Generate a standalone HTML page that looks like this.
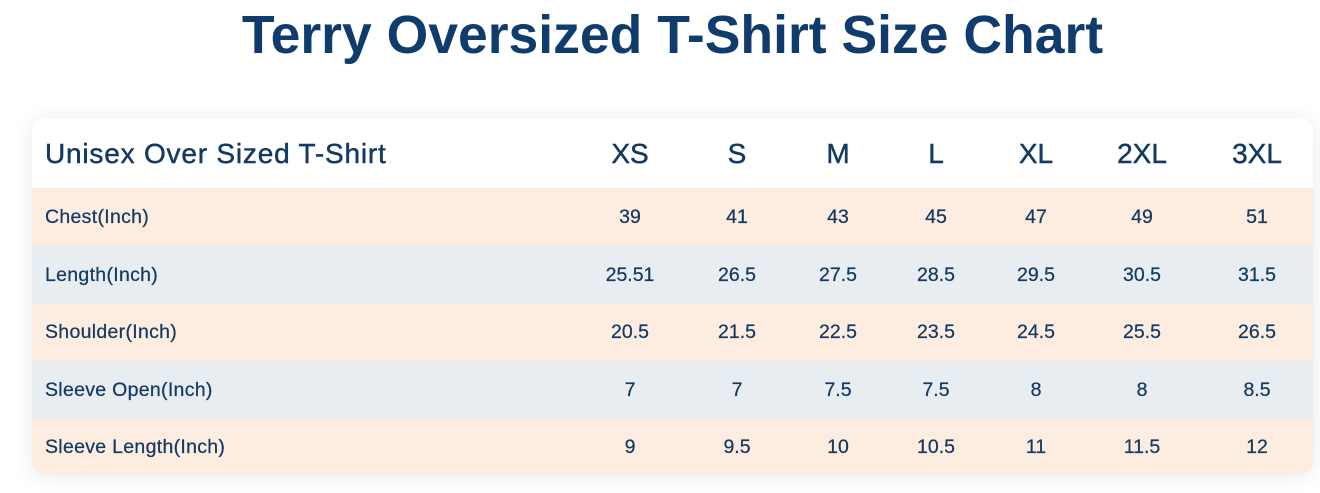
<!DOCTYPE html>
<html>
<head>
<meta charset="utf-8">
<style>
  html,body{margin:0;padding:0;}
  body{width:1320px;height:493px;background:#ffffff;position:relative;overflow:hidden;font-family:"Liberation Sans",sans-serif;color:#143a62;}
  .title{position:absolute;left:0;width:1345px;top:6px;text-align:center;font-size:53.5px;line-height:60px;font-weight:bold;color:#0f3c6c;white-space:nowrap;}
  .card{position:absolute;left:32px;top:118px;width:1281px;height:356px;border-radius:12px;overflow:hidden;background:#fff;box-shadow:0 2px 22px rgba(0,0,0,0.09);}
  .row{position:absolute;left:0;width:1281px;}
  .peach{background:#fdede1;}
  .grey{background:#e8edf1;}
  .t{position:absolute;white-space:nowrap;}
  .h{font-size:28px;line-height:30px;top:20.6px;-webkit-text-stroke:0.45px #143a62;}
  .lab{letter-spacing:0.8px;}
  .b{font-size:19.5px;line-height:20px;-webkit-text-stroke:0.25px #143a62;}
  .bl{letter-spacing:0.3px;}
  .c{width:120px;margin-left:-60px;text-align:center;}
</style>
</head>
<body>
<div class="title">Terry Oversized T-Shirt Size Chart</div>
<div class="card">
  <div class="row" style="top:0;height:70px;">
    <div class="t h lab" style="left:13px;">Unisex Over Sized T-Shirt</div>
    <div class="t h c" style="left:598px;">XS</div>
    <div class="t h c" style="left:705px;">S</div>
    <div class="t h c" style="left:806px;">M</div>
    <div class="t h c" style="left:904px;">L</div>
    <div class="t h c" style="left:1004px;">XL</div>
    <div class="t h c" style="left:1110px;">2XL</div>
    <div class="t h c" style="left:1225px;">3XL</div>
  </div>
  <div class="row peach" style="top:70px;height:58px;">
    <div class="t b bl" style="left:13px;top:19px;">Chest(Inch)</div>
    <div class="t b c" style="left:598px;top:19px;">39</div>
    <div class="t b c" style="left:705px;top:19px;">41</div>
    <div class="t b c" style="left:806px;top:19px;">43</div>
    <div class="t b c" style="left:904px;top:19px;">45</div>
    <div class="t b c" style="left:1004px;top:19px;">47</div>
    <div class="t b c" style="left:1110px;top:19px;">49</div>
    <div class="t b c" style="left:1225px;top:19px;">51</div>
  </div>
  <div class="row grey" style="top:128px;height:57px;">
    <div class="t b bl" style="left:13px;top:18.5px;">Length(Inch)</div>
    <div class="t b c" style="left:598px;top:18.5px;">25.51</div>
    <div class="t b c" style="left:705px;top:18.5px;">26.5</div>
    <div class="t b c" style="left:806px;top:18.5px;">27.5</div>
    <div class="t b c" style="left:904px;top:18.5px;">28.5</div>
    <div class="t b c" style="left:1004px;top:18.5px;">29.5</div>
    <div class="t b c" style="left:1110px;top:18.5px;">30.5</div>
    <div class="t b c" style="left:1225px;top:18.5px;">31.5</div>
  </div>
  <div class="row peach" style="top:185px;height:58px;">
    <div class="t b bl" style="left:13px;top:19px;">Shoulder(Inch)</div>
    <div class="t b c" style="left:598px;top:19px;">20.5</div>
    <div class="t b c" style="left:705px;top:19px;">21.5</div>
    <div class="t b c" style="left:806px;top:19px;">22.5</div>
    <div class="t b c" style="left:904px;top:19px;">23.5</div>
    <div class="t b c" style="left:1004px;top:19px;">24.5</div>
    <div class="t b c" style="left:1110px;top:19px;">25.5</div>
    <div class="t b c" style="left:1225px;top:19px;">26.5</div>
  </div>
  <div class="row grey" style="top:243px;height:57px;">
    <div class="t b bl" style="left:13px;top:18.5px;">Sleeve Open(Inch)</div>
    <div class="t b c" style="left:598px;top:18.5px;">7</div>
    <div class="t b c" style="left:705px;top:18.5px;">7</div>
    <div class="t b c" style="left:806px;top:18.5px;">7.5</div>
    <div class="t b c" style="left:904px;top:18.5px;">7.5</div>
    <div class="t b c" style="left:1004px;top:18.5px;">8</div>
    <div class="t b c" style="left:1110px;top:18.5px;">8</div>
    <div class="t b c" style="left:1225px;top:18.5px;">8.5</div>
  </div>
  <div class="row peach" style="top:300px;height:56px;">
    <div class="t b bl" style="left:13px;top:19px;">Sleeve Length(Inch)</div>
    <div class="t b c" style="left:598px;top:19px;">9</div>
    <div class="t b c" style="left:705px;top:19px;">9.5</div>
    <div class="t b c" style="left:806px;top:19px;">10</div>
    <div class="t b c" style="left:904px;top:19px;">10.5</div>
    <div class="t b c" style="left:1004px;top:19px;">11</div>
    <div class="t b c" style="left:1110px;top:19px;">11.5</div>
    <div class="t b c" style="left:1225px;top:19px;">12</div>
  </div>
</div>
</body>
</html>
